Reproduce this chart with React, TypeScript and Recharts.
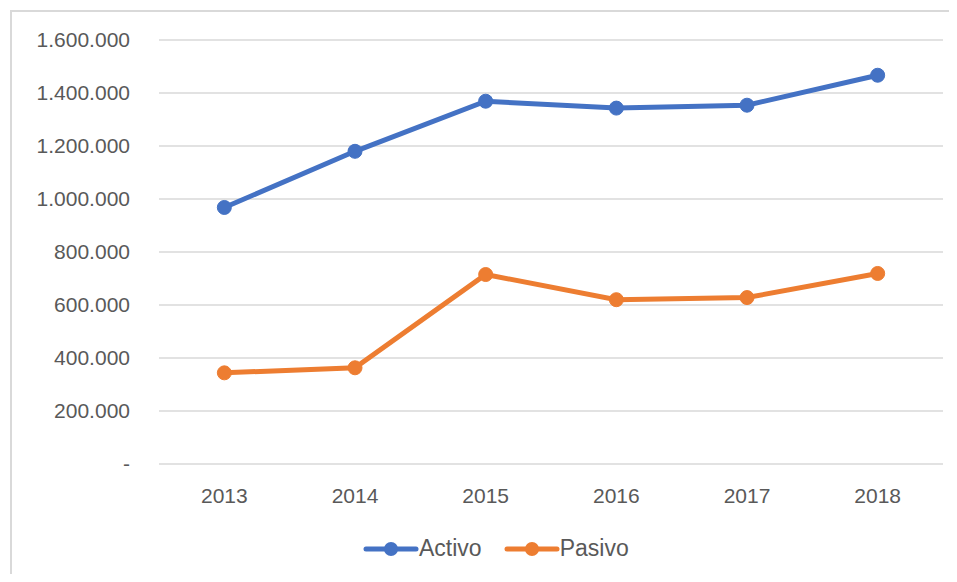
import { CartesianGrid, Legend, Line, LineChart, XAxis, YAxis } from "recharts";

const years = ["2013", "2014", "2015", "2016", "2017", "2018"];
const activo = [968000, 1180000, 1369000, 1343000, 1354000, 1467000];
const pasivo = [344000, 363000, 715000, 620000, 628000, 719000];
const yTicks = [0, 200000, 400000, 600000, 800000, 1000000, 1200000, 1400000, 1600000];

const data = years.map((year, i) => ({ year, Activo: activo[i], Pasivo: pasivo[i] }));

const fontFamily = "'Liberation Sans', Arial, sans-serif";
const textColor = "#595959";
const gridColor = "#d9d9d9";

function formatThousands(value: number) {
  if (value === 0) return "-";
  return String(value).replace(/\B(?=(\d{3})+(?!\d))/g, ".");
}

function LegendContent({ payload }: { payload?: Array<{ value: string; color?: string }> }) {
  return (
    <div style={{ display: "flex", alignItems: "center", fontFamily, fontSize: 23, color: textColor }}>
      {(payload ?? []).map((item, i) => (
        <div key={item.value} style={{ display: "flex", alignItems: "center", marginLeft: i ? 22 : 0 }}>
          <svg width={56} height={16}>
            <line x1={3} y1={8} x2={53} y2={8} stroke={item.color} strokeWidth={5} strokeLinecap="round" />
            <circle cx={28} cy={8} r={7} fill={item.color} />
          </svg>
          <span>{item.value}</span>
        </div>
      ))}
    </div>
  );
}

export default function App() {
  return (
    <div style={{ position: "relative", width: 957, height: 582, margin: -8, overflow: "hidden", background: "#fff" }}>
      <div
        style={{
          position: "absolute",
          left: 10,
          top: 10,
          width: 1000,
          height: 700,
          border: `2px solid ${gridColor}`,
        }}
      />
      <div style={{ position: "absolute", left: 0, top: 0 }}>
        <LineChart width={957} height={582} data={data} margin={{ top: 40, right: 14, bottom: 61, left: 19 }}>
          <CartesianGrid vertical={false} stroke={gridColor} strokeWidth={1.5} />
          <XAxis
            dataKey="year"
            scale="band"
            axisLine={false}
            tickLine={false}
            tickSize={6}
            tickMargin={18}
            tick={{ fill: textColor, fontSize: 21, fontFamily }}
          />
          <YAxis
            width={140}
            domain={[0, 1600000]}
            ticks={yTicks}
            interval={0}
            axisLine={false}
            tickLine={false}
            tickSize={6}
            tickMargin={23}
            tickFormatter={formatThousands}
            tick={{ fill: textColor, fontSize: 21, fontFamily }}
          />
          <Legend
            content={(props: any) => <LegendContent payload={props.payload} />}
            wrapperStyle={{ left: 363, top: 535, width: "auto" }}
          />
          <Line
            dataKey="Activo"
            stroke="#4472C4"
            strokeWidth={5}
            dot={{ r: 7, fill: "#4472C4", stroke: "#4472C4", strokeWidth: 1 }}
            isAnimationActive={false}
          />
          <Line
            dataKey="Pasivo"
            stroke="#ED7D31"
            strokeWidth={5}
            dot={{ r: 7, fill: "#ED7D31", stroke: "#ED7D31", strokeWidth: 1 }}
            isAnimationActive={false}
          />
        </LineChart>
      </div>
    </div>
  );
}
